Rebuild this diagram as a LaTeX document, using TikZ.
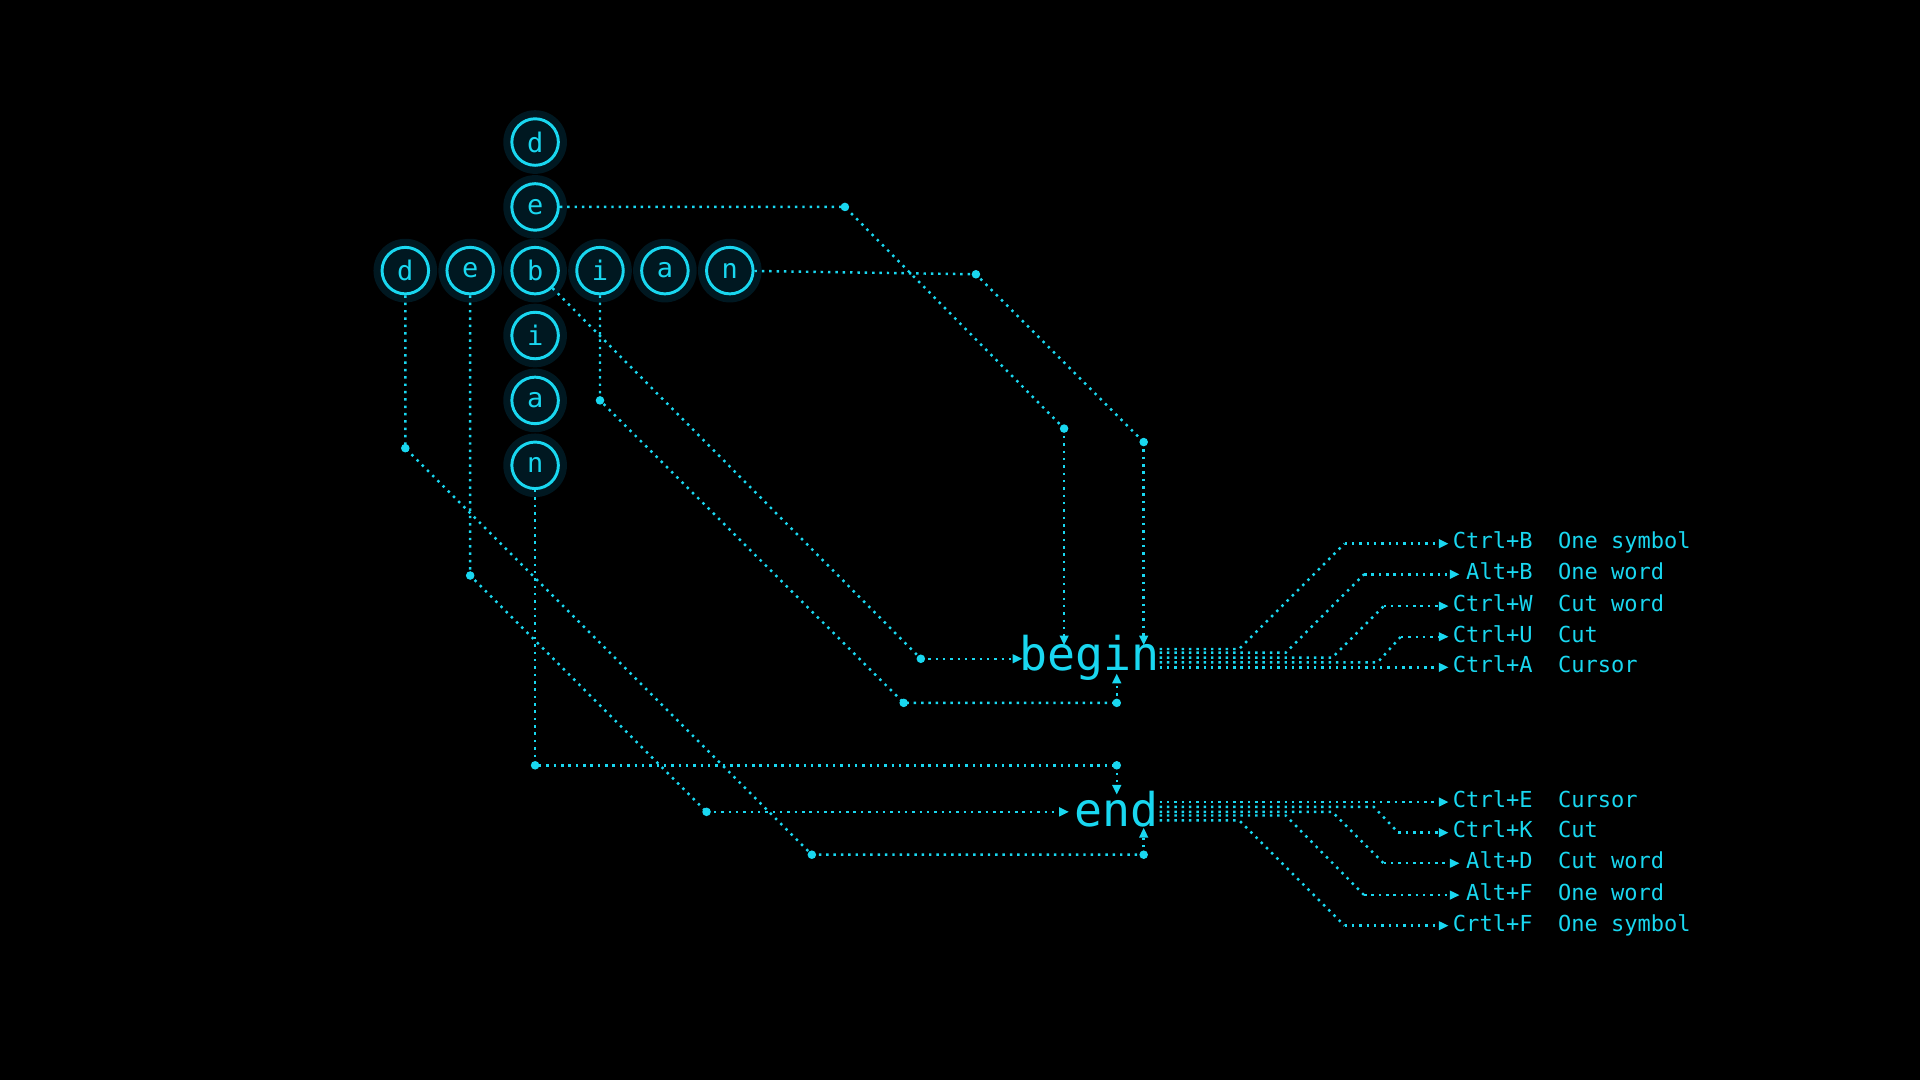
\documentclass[tikz,border=0pt]{standalone}
\usepackage{fontspec}
\setmonofont{DejaVu Sans Mono}
\usetikzlibrary{arrows.meta}
\definecolor{neon}{RGB}{25,215,240}
\definecolor{glow}{RGB}{0,40,55}
\begin{document}
\begin{tikzpicture}[x=0.5pt,y=-0.5pt,
  ltr/.style={circle,draw=neon,line width=1.2pt,minimum size=19pt,inner sep=0pt,text=neon,font=\ttfamily\fontsize{11}{11}\selectfont},
  big/.style={text=neon,inner sep=0pt,font=\ttfamily\fontsize{19}{19}\selectfont},
  lbl/.style={text=neon,inner sep=0pt,font=\ttfamily\fontsize{9}{9}\selectfont},
  wire/.style={draw=neon,line width=1pt,dotted},
  arr/.style={wire,-{Triangle[length=4pt,width=3.5pt]}},
  jd/.style={fill=neon,circle,inner sep=0pt,minimum size=3.5pt}]
\fill[black] (0,0) rectangle (1568,882);
% glow halos
\foreach \p in {(331,221),(384,221),(437,221),(490,221),(543,221),(596,221),(437,116),(437,169),(437,274),(437,327),(437,380)}
  \fill[glow,opacity=0.6] \p circle (26);
% letters
\node[ltr] (rd) at (331,221) {d};
\node[ltr] (re) at (384,221) {e};
\node[ltr] (rb) at (437,221) {b};
\node[ltr] (ri) at (490,221) {i};
\node[ltr] (ra) at (543,221) {a};
\node[ltr] (rn) at (596,221) {n};
\node[ltr] (cd) at (437,116) {d};
\node[ltr] (ce) at (437,169) {e};
\node[ltr] (ci) at (437,274) {i};
\node[ltr] (ca) at (437,327) {a};
\node[ltr] (cn) at (437,380) {n};
\node[big] (begin) at (890,537) {begin};
\node[big] (end) at (912,661) {end};
% junction coordinates
\coordinate (j1) at (690,169); \coordinate (j2) at (869,350); \coordinate (t1) at (869,527);
\coordinate (j3) at (797,224); \coordinate (j4) at (934,361); \coordinate (t2) at (934,527);
\coordinate (j5) at (752,538); \coordinate (t3) at (835,538);
\coordinate (j6) at (490,327); \coordinate (j7) at (738,574); \coordinate (j8) at (912,574); \coordinate (t4) at (912,550);
\coordinate (j9) at (331,366); \coordinate (j10) at (663,698); \coordinate (j11) at (934,698); \coordinate (t5) at (934,676);
\coordinate (j12) at (384,470); \coordinate (j13) at (577,663); \coordinate (t6) at (873,663);
\coordinate (j14) at (437,625); \coordinate (j15) at (912,625); \coordinate (t7) at (912,649);
% wires to begin
\draw[wire] (ce) -- (j1) -- (j2); \draw[arr] (j2) -- (t1);
\draw[wire] (rn) -- (j3) -- (j4); \draw[arr] (j4) -- (t2);
\draw[wire] (rb) -- (j5); \draw[arr] (j5) -- (t3);
\draw[wire] (ri) -- (j6) -- (j7) -- (j8); \draw[arr] (j8) -- (t4);
% wires to end
\draw[wire] (rd) -- (j9) -- (j10) -- (j11); \draw[arr] (j11) -- (t5);
\draw[wire] (re) -- (j12) -- (j13); \draw[arr] (j13) -- (t6);
\draw[wire] (cn) -- (j14) -- (j15); \draw[arr] (j15) -- (t7);
\foreach \c in {j1,j2,j3,j4,j5,j6,j7,j8,j9,j10,j11,j12,j13,j14,j15}
  \node[jd] at (\c) {};
% begin fan
\foreach \y/\bx/\ty/\kx/\ax/\k/\d in {530/1012/444/1098/1183/Ctrl+B/One symbol, 533/1050/469/1114/1192/Alt+B/One word, 537/1088/495/1130/1183/Ctrl+W/Cut word, 541/1125/520/1144/1183/Ctrl+U/Cut}{
  \coordinate (a\y) at (947,\y); \coordinate (b\y) at (\bx,\y); \coordinate (c\y) at (\kx,\ty); \coordinate (e\y) at (\ax,\ty);
  \draw[wire] (a\y) -- (b\y) -- (c\y); \draw[arr] (c\y) -- (e\y);
  \node[lbl,anchor=mid east] (k\y) at (1252,\ty) {\k};
  \node[lbl,anchor=mid west] (d\y) at (1272,\ty) {\d};
}
\coordinate (a545) at (947,545); \coordinate (e545) at (1183,545);
\draw[arr] (a545) -- (e545);
\node[lbl,anchor=mid east] (k545) at (1252,545) {Ctrl+A};
\node[lbl,anchor=mid west] (d545) at (1272,545) {Cursor};
% end fan
\coordinate (f655) at (947,655); \coordinate (g655) at (1183,655);
\draw[arr] (f655) -- (g655);
\node[lbl,anchor=mid east] (m655) at (1252,655) {Ctrl+E};
\node[lbl,anchor=mid west] (n655) at (1272,655) {Cursor};
\foreach \y/\bx/\ty/\kx/\ax/\k/\d in {659/1122/680/1142/1183/Ctrl+K/Cut, 663/1088/705/1130/1192/Alt+D/Cut word, 666/1050/731/1114/1192/Alt+F/One word, 670/1012/756/1098/1183/Crtl+F/One symbol}{
  \coordinate (f\y) at (947,\y); \coordinate (h\y) at (\bx,\y); \coordinate (p\y) at (\kx,\ty); \coordinate (g\y) at (\ax,\ty);
  \draw[wire] (f\y) -- (h\y) -- (p\y); \draw[arr] (p\y) -- (g\y);
  \node[lbl,anchor=mid east] (m\y) at (1252,\ty) {\k};
  \node[lbl,anchor=mid west] (n\y) at (1272,\ty) {\d};
}
\end{tikzpicture}
\end{document}
